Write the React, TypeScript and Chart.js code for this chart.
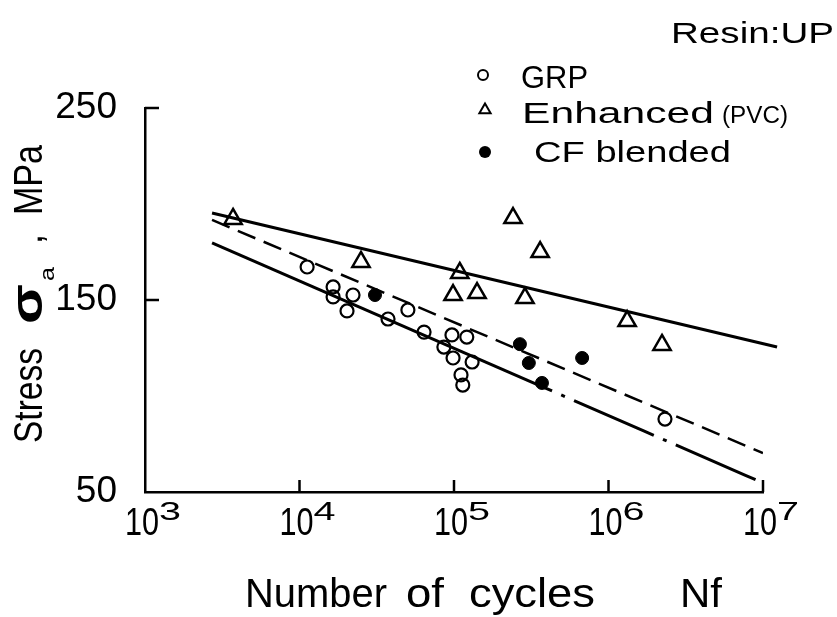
import React, { useEffect, useRef } from 'react';
import { Chart, registerables } from 'chart.js';

Chart.register(...registerables);

// ---- data ----
const xTickExponents = [3, 4, 5, 6, 7];
const yTickStep = 100;

const grpCycles = [11200, 16500, 16500, 22200, 20300, 50300, 37400, 64000, 97000, 121000, 86000, 98600, 131000, 111000, 114000, 2320000];
const grpStress = [167.2, 156.8, 151.6, 152.6, 144.3, 144.8, 140.1, 133.3, 131.8, 130.7, 125.5, 119.8, 117.7, 111, 105.7, 88];

const pvcCycles = [3715, 25000, 109000, 98600, 141000, 241000, 361000, 288000, 1320000, 2220000];
const pvcStress = [192.2, 169.8, 164.1, 152.6, 153.6, 192.7, 175, 151, 139, 126.6];

const cfCycles = [30800, 267000, 305000, 371000, 675000];
const cfStress = [152.6, 127, 117.2, 106.8, 119.8];

const pvcFitCycles = [2716, 12330000];
const pvcFitStress = [195.3, 125.5];
const cfFitCycles = [2716, 10000000];
const cfFitStress = [191.7, 70.3];
const grpFitCycles = [2716, 371000];
const grpFitStress = [179.7, 104.9];
const grpExtCycles = [371000, 10000000];
const grpExtStress = [104.9, 54.7];

const FONT = "'Liberation Sans', Arial, sans-serif";

const pts = (xs: number[], ys: number[]) => xs.map((x, i) => ({ x, y: ys[i] }));

function fitText(ctx: CanvasRenderingContext2D, text: string, x: number, y: number, width: number, font: string) {
  ctx.save();
  ctx.font = font;
  ctx.textAlign = 'left';
  ctx.textBaseline = 'alphabetic';
  const w = ctx.measureText(text).width;
  ctx.translate(x, y);
  ctx.scale(width / w, 1);
  ctx.fillText(text, 0, 0);
  ctx.restore();
}

const decorPlugin = {
  id: 'decor',
  afterDraw(chart: any) {
    const { ctx, chartArea, scales } = chart;
    const xs = scales.x;
    const ys = scales.y;
    ctx.save();
    ctx.strokeStyle = '#000';
    ctx.fillStyle = '#000';
    ctx.lineWidth = 2.5;
    ctx.lineCap = 'butt';
    ctx.setLineDash([]);

    // inward y ticks
    [150, 250].forEach((v) => {
      const py = ys.getPixelForValue(v);
      ctx.beginPath();
      ctx.moveTo(chartArea.left, py);
      ctx.lineTo(chartArea.left + 14, py);
      ctx.stroke();
    });
    // inward x ticks
    xTickExponents.slice(1).forEach((e) => {
      const px = xs.getPixelForValue(Math.pow(10, e));
      ctx.beginPath();
      ctx.moveTo(px, chartArea.bottom);
      ctx.lineTo(px, chartArea.bottom - 12);
      ctx.stroke();
    });

    // x tick labels 10^n
    xTickExponents.forEach((e) => {
      const px = xs.getPixelForValue(Math.pow(10, e));
      fitText(ctx, '10', px - 20, 535, 34, `38px ${FONT}`);
      fitText(ctx, String(e), px + 14, 520, 22, `26px ${FONT}`);
    });

    // x title
    const xf = `40px ${FONT}`;
    fitText(ctx, 'Number', 245, 607, 142, xf);
    fitText(ctx, 'of', 406, 607, 38, xf);
    fitText(ctx, 'cycles', 469, 607, 126, xf);
    fitText(ctx, 'Nf', 680, 607, 42, xf);

    // y title (rotated)
    ctx.save();
    ctx.translate(42, 443);
    ctx.rotate(-Math.PI / 2);
    fitText(ctx, 'Stress', 0, 0, 95, `40px ${FONT}`);
    fitText(ctx, 'σ', 119, 0, 40, `bold 44px ${FONT}`);
    fitText(ctx, 'a', 162, 12, 14, `20px ${FONT}`);
    fitText(ctx, ',', 199, 0, 10, `40px ${FONT}`);
    fitText(ctx, 'MPa', 228, 0, 70, `40px ${FONT}`);
    ctx.restore();

    // Resin label
    fitText(ctx, 'Resin:UP', 671, 43, 163, `29px ${FONT}`);

    // legend
    ctx.lineWidth = 2;
    ctx.beginPath();
    ctx.arc(483, 75, 5, 0, Math.PI * 2);
    ctx.stroke();
    fitText(ctx, 'GRP', 521, 88, 67, `31px ${FONT}`);

    ctx.beginPath();
    const tr = 6.5;
    ctx.moveTo(485, 110 - tr);
    ctx.lineTo(485 + tr * 0.866, 110 + tr * 0.5);
    ctx.lineTo(485 - tr * 0.866, 110 + tr * 0.5);
    ctx.closePath();
    ctx.stroke();
    fitText(ctx, 'Enhanced', 522, 123, 192, `30px ${FONT}`);
    fitText(ctx, '(PVC)', 722, 123, 66, `23px ${FONT}`);

    ctx.beginPath();
    ctx.arc(485, 152, 6, 0, Math.PI * 2);
    ctx.fill();
    fitText(ctx, 'CF blended', 534, 162, 197, `30px ${FONT}`);

    ctx.restore();
  },
};

export default function App() {
  const ref = useRef<HTMLCanvasElement | null>(null);

  useEffect(() => {
    if (!ref.current) return;
    const chart = new Chart(ref.current, {
      type: 'scatter',
      data: {
        datasets: [
          {
            label: 'Enhanced fit',
            data: pts(pvcFitCycles, pvcFitStress),
            showLine: true,
            borderColor: '#000',
            borderWidth: 3,
            pointRadius: 0,
            clip: false as any,
            order: 5,
          },
          {
            label: 'CF fit',
            data: pts(cfFitCycles, cfFitStress),
            showLine: true,
            borderColor: '#000',
            borderWidth: 2.5,
            borderDash: [19, 9],
            pointRadius: 0,
            order: 5,
          },
          {
            label: 'GRP fit',
            data: pts(grpFitCycles, grpFitStress),
            showLine: true,
            borderColor: '#000',
            borderWidth: 3,
            pointRadius: 0,
            order: 5,
          },
          {
            label: 'GRP fit extension',
            data: pts(grpExtCycles, grpExtStress),
            showLine: true,
            borderColor: '#000',
            borderWidth: 3,
            borderDash: [11, 10, 4, 10, 76, 0],
            pointRadius: 0,
            order: 5,
          },
          {
            label: 'GRP',
            data: pts(grpCycles, grpStress),
            pointStyle: 'circle',
            pointRadius: 6.5,
            borderWidth: 2.2,
            borderColor: '#000',
            backgroundColor: 'rgba(0,0,0,0)',
            order: 1,
          },
          {
            label: 'Enhanced (PVC)',
            data: pts(pvcCycles, pvcStress),
            pointStyle: 'triangle',
            pointRadius: 10,
            borderWidth: 2.5,
            borderColor: '#000',
            backgroundColor: 'rgba(0,0,0,0)',
            order: 1,
          },
          {
            label: 'CF blended',
            data: pts(cfCycles, cfStress),
            pointStyle: 'circle',
            pointRadius: 6.5,
            borderWidth: 1,
            borderColor: '#000',
            backgroundColor: '#000',
            order: 1,
          },
        ],
      },
      options: {
        responsive: false,
        animation: false,
        devicePixelRatio: 1,
        layout: { padding: { left: 0, top: 108, right: 74, bottom: 0 } },
        plugins: { legend: { display: false }, tooltip: { enabled: false } },
        events: [],
        scales: {
          x: {
            type: 'logarithmic',
            position: 'bottom',
            min: 1000,
            max: 10000000,
            grid: { display: false, drawTicks: false },
            border: { display: true, color: '#000', width: 2.5 },
            ticks: { display: false },
            afterFit: (s: any) => {
              s.height = 125;
            },
          },
          y: {
            type: 'linear',
            position: 'left',
            min: 50,
            max: 250,
            grid: { display: false, drawTicks: false },
            border: { display: true, color: '#000', width: 2.5 },
            ticks: {
              stepSize: yTickStep,
              padding: 28,
              color: '#000',
              font: { family: FONT, size: 37 },
            },
            afterFit: (s: any) => {
              s.width = 145;
            },
          },
        },
      },
      plugins: [decorPlugin],
    } as any);
    return () => chart.destroy();
  }, []);

  return (
    <div style={{ position: 'absolute', left: 0, top: 0, width: 837, height: 617, background: '#fff' }}>
      <canvas ref={ref} width={837} height={617} />
    </div>
  );
}
